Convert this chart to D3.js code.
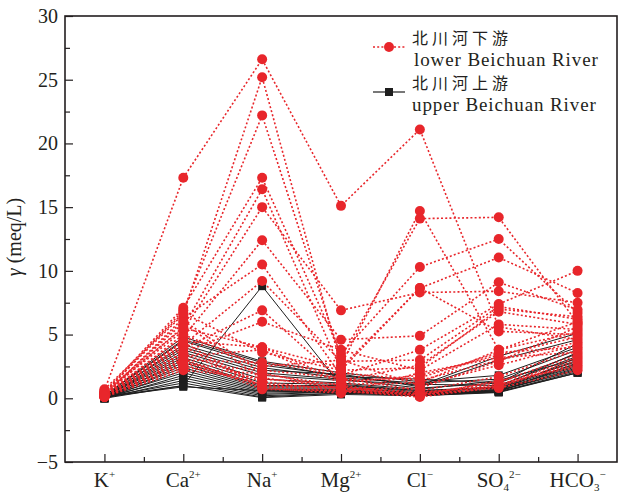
<!DOCTYPE html>
<html>
<head>
<meta charset="utf-8">
<script src="https://cdn.jsdelivr.net/npm/d3@7"></script>
<style>
  body { margin: 0; background: #fff; }
  svg { display: block; }
  svg text { font-family: "Liberation Serif", "Times New Roman", Times, "DejaVu Serif", serif; fill: #231f20; }
  svg text.cjk { font-family: "Noto Sans CJK SC", "Noto Sans CJK JP", sans-serif; letter-spacing: 4px; }
  svg text.en { letter-spacing: 0.9px; }
</style>
</head>
<body>
<svg id="chart" width="623" height="492"></svg>
<script>
// ion categories (base, subscript, superscript)
const ions = ["K", "Ca", "Na", "Mg", "Cl", "SO", "HCO"];
const ionSub = ["", "", "", "", "", "4", "3"];
const ionSup = ["+", "2+", "+", "2+", "\u2212", "2\u2212", "\u2212"];
const yTicks = [-5, 0, 5, 10, 15, 20, 25, 30];

// 北川河下游 lower Beichuan River, meq/L: K, Ca, Na, Mg, Cl, SO4, HCO3
const lowerRiver = [
  [0.6, 17.3, 26.6, 15.1, 21.1, 5.6, 4.6],
  [0.5, 6.6, 25.2, 2.6, 14.7, 3.8, 5.2],
  [0.4, 6.9, 22.2, 3.2, 14.1, 14.2, 5.9],
  [0.5, 7.1, 17.3, 3.5, 10.3, 12.5, 6.7],
  [0.3, 5.6, 16.4, 2.2, 8.65, 11.05, 8.26],
  [0.4, 5.3, 15.0, 6.9, 8.3, 8.4, 7.5],
  [0.3, 4.8, 12.4, 4.6, 4.9, 9.1, 6.95],
  [0.2, 6.3, 10.5, 1.8, 3.8, 7.4, 10.0],
  [0.3, 4.2, 9.2, 2.9, 3.0, 7.2, 6.2],
  [0.2, 3.9, 6.9, 1.4, 2.6, 6.8, 5.8],
  [0.2, 3.6, 6.0, 3.8, 2.2, 5.8, 5.4],
  [0.3, 4.5, 4.0, 2.4, 8.65, 5.25, 5.0],
  [0.2, 3.3, 3.8, 1.2, 1.8, 3.4, 4.8],
  [0.1, 3.0, 2.8, 2.0, 1.4, 3.0, 4.4],
  [0.2, 5.0, 2.5, 3.0, 1.0, 2.6, 4.2],
  [0.1, 2.7, 2.2, 1.6, 0.6, 1.7, 3.8],
  [0.2, 2.4, 1.9, 1.0, 0.3, 1.3, 3.4],
  [0.1, 2.2, 1.6, 0.8, 0.5, 0.9, 3.0],
  [0.3, 3.5, 1.3, 0.6, 0.4, 1.1, 2.6],
  [0.1, 2.9, 1.0, 0.5, 0.3, 0.8, 2.2],
  [0.2, 4.1, 0.8, 0.4, 2.0, 3.2, 3.6],
  [0.4, 5.9, 1.5, 1.1, 1.2, 3.8, 6.0],
  [0.3, 6.1, 2.0, 0.7, 0.8, 2.9, 5.6],
  [0.2, 4.4, 0.9, 0.9, 0.2, 1.0, 3.2],
  [0.1, 3.1, 0.7, 0.6, 0.1, 0.9, 2.8],
  [0.7, 6.7, 3.6, 2.2, 2.4, 7.0, 6.4],
  [0.5, 5.5, 4.0, 1.4, 1.6, 3.6, 4.0],
  [0.2, 2.6, 1.1, 0.8, 0.2, 1.4, 2.4]
];

// 北川河上游 upper Beichuan River
const upperRiver = [
  [0.1, 1.0, 8.8, 1.0, 0.6, 0.8, 3.0],
  [0.2, 4.8, 2.9, 2.0, 1.3, 1.8, 4.0],
  [0.2, 4.5, 2.6, 1.8, 1.0, 3.3, 5.1],
  [0.1, 4.2, 2.4, 1.6, 1.2, 1.5, 3.8],
  [0.2, 4.0, 2.2, 1.9, 0.9, 3.0, 4.6],
  [0.1, 3.8, 2.0, 1.5, 0.8, 1.2, 3.5],
  [0.1, 3.6, 1.8, 1.4, 1.1, 1.0, 3.3],
  [0.1, 3.4, 1.5, 1.2, 0.7, 1.4, 3.1],
  [0.1, 3.2, 1.2, 1.1, 0.6, 0.9, 2.9],
  [0.0, 3.0, 1.0, 1.0, 0.5, 0.8, 2.7],
  [0.1, 2.8, 0.9, 0.9, 0.4, 0.7, 2.5],
  [0.0, 2.6, 0.8, 0.8, 0.4, 0.6, 2.4],
  [0.1, 2.4, 0.7, 0.7, 0.3, 0.6, 2.2],
  [0.0, 2.2, 0.6, 0.6, 0.3, 0.5, 2.1],
  [0.1, 2.0, 0.5, 0.6, 0.2, 0.5, 2.0],
  [0.0, 1.8, 0.4, 0.5, 0.3, 0.6, 2.3],
  [0.1, 1.6, 0.3, 0.5, 0.2, 0.7, 2.6],
  [0.0, 1.4, 0.2, 0.4, 0.3, 0.5, 2.8],
  [0.1, 1.2, 0.1, 0.4, 0.2, 0.6, 3.2],
  [0.0, 1.0, 0.05, 0.3, 0.2, 0.45, 2.0],
  [0.1, 0.9, 0.6, 0.5, 0.4, 0.9, 3.6],
  [0.2, 4.6, 2.8, 1.7, 1.5, 1.2, 4.3]
];

const RED = "#e8262b";
const BLACK = "#1e1e1e";

const svg = d3.select("svg#chart");
const width = 623, height = 492;
const margin = { top: 16, right: 6, bottom: 30, left: 65 };

const x = d3.scaleLinear()
  .domain([0.5, ions.length + 0.5])
  .range([margin.left, width - margin.right]);
const y = d3.scaleLinear()
  .domain([-5, 30])
  .range([height - margin.bottom, margin.top]);

const line = d3.line()
  .x((d, i) => x(i + 1))
  .y(d => y(d));

// upper river: black solid lines + squares
const upper = svg.append("g");
upper.selectAll("path")
  .data(upperRiver)
  .join("path")
  .attr("d", line)
  .attr("fill", "none")
  .attr("stroke", BLACK)
  .attr("stroke-width", 1);
upper.selectAll("g")
  .data(upperRiver)
  .join("g")
  .selectAll("rect")
  .data(d => d)
  .join("rect")
  .attr("x", (d, i) => x(i + 1) - 4)
  .attr("y", d => y(d) - 4)
  .attr("width", 8)
  .attr("height", 8)
  .attr("fill", BLACK);

// lower river: red dotted lines + circles
const lower = svg.append("g");
lower.selectAll("path")
  .data(lowerRiver)
  .join("path")
  .attr("d", line)
  .attr("fill", "none")
  .attr("stroke", RED)
  .attr("stroke-width", 1.6)
  .attr("stroke-dasharray", "2,2.2");
lower.selectAll("g")
  .data(lowerRiver)
  .join("g")
  .selectAll("circle")
  .data(d => d)
  .join("circle")
  .attr("cx", (d, i) => x(i + 1))
  .attr("cy", d => y(d))
  .attr("r", 5)
  .attr("fill", RED);

// axes (ticks point inward)
const xAxisY = height - margin.bottom;
svg.append("g")
  .attr("transform", `translate(0,${xAxisY})`)
  .call(d3.axisBottom(x).tickValues(d3.range(1, ions.length + 1)).tickSizeInner(-8).tickSizeOuter(0).tickFormat(""))
  .call(g => g.select(".domain").remove());
svg.append("g")
  .attr("transform", `translate(0,${xAxisY})`)
  .call(d3.axisBottom(x).tickValues(d3.range(1.5, ions.length, 1)).tickSizeInner(-5).tickSizeOuter(0).tickFormat(""))
  .call(g => g.select(".domain").remove());

svg.append("g")
  .attr("transform", `translate(${margin.left},0)`)
  .call(d3.axisLeft(y).tickValues(yTicks).tickSizeInner(-8).tickSizeOuter(0).tickPadding(7)
    .tickFormat(d => d < 0 ? "\u2212" + Math.abs(d) : d))
  .call(g => g.select(".domain").remove())
  .call(g => g.selectAll("text").attr("font-size", 20));
svg.append("g")
  .attr("transform", `translate(${margin.left},0)`)
  .call(d3.axisLeft(y).tickValues(d3.range(-2.5, 30, 5)).tickSizeInner(-5).tickSizeOuter(0).tickFormat(""))
  .call(g => g.select(".domain").remove());

svg.selectAll(".tick line").attr("stroke", "#231f20").attr("stroke-width", 1.2);

// category labels with sub/superscripts
const xl = svg.append("g")
  .selectAll("text")
  .data(ions)
  .join("text")
  .attr("x", (d, i) => x(i + 1))
  .attr("y", 487)
  .attr("text-anchor", "middle")
  .attr("font-size", 21);
xl.append("tspan").text(d => d);
xl.each(function (d, i) {
  const t = d3.select(this);
  if (ionSub[i]) {
    t.append("tspan").attr("font-size", 11).attr("dy", 4).text(ionSub[i]);
    t.append("tspan").attr("font-size", 11).attr("dy", -13).text(ionSup[i]);
  } else {
    t.append("tspan").attr("font-size", 11).attr("dy", -9).text(ionSup[i]);
  }
});

// y axis title
const yt = svg.append("text")
  .attr("transform", `translate(21,237) rotate(-90)`)
  .attr("text-anchor", "middle")
  .attr("font-size", 20);
yt.append("tspan").attr("font-style", "italic").text("\u03b3");
yt.append("tspan").text(" (meq/L)");

// frame
svg.append("rect")
  .attr("x", margin.left)
  .attr("y", margin.top)
  .attr("width", width - margin.left - margin.right)
  .attr("height", height - margin.top - margin.bottom)
  .attr("fill", "none")
  .attr("stroke", "#231f20")
  .attr("stroke-width", 1.6);

// legend
const legend = svg.append("g");
legend.append("line")
  .attr("x1", 373).attr("x2", 405).attr("y1", 47).attr("y2", 47)
  .attr("stroke", RED).attr("stroke-width", 1.6).attr("stroke-dasharray", "2,2.2");
legend.append("circle").attr("cx", 389).attr("cy", 47).attr("r", 5).attr("fill", RED);
legend.append("line")
  .attr("x1", 373).attr("x2", 405).attr("y1", 92).attr("y2", 92)
  .attr("stroke", BLACK).attr("stroke-width", 1.2);
legend.append("rect").attr("x", 385).attr("y", 88).attr("width", 8).attr("height", 8).attr("fill", BLACK);

legend.append("text").attr("class", "cjk").attr("x", 412).attr("y", 44)
  .attr("font-size", 16).text("北川河下游");
legend.append("text").attr("class", "en").attr("x", 414).attr("y", 66).attr("font-size", 19).text("lower Beichuan River");
legend.append("text").attr("class", "cjk").attr("x", 412).attr("y", 89)
  .attr("font-size", 16).text("北川河上游");
legend.append("text").attr("class", "en").attr("x", 412).attr("y", 110.8).attr("font-size", 19).text("upper Beichuan River");
</script>
</body>
</html>
